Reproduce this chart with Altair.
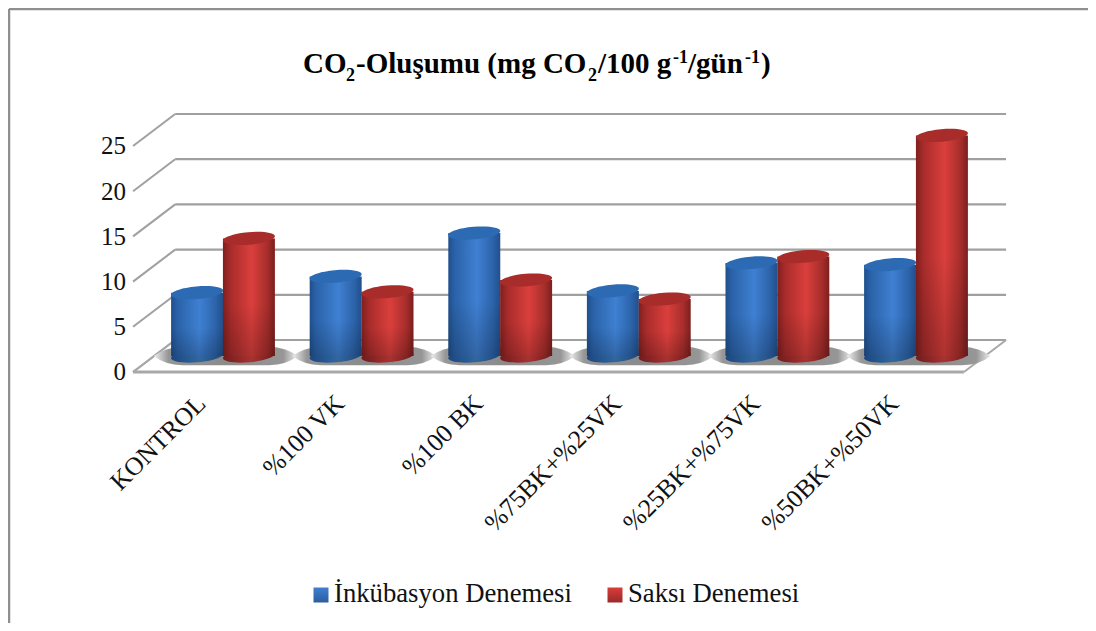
import altair as alt
import pandas as pd

categories = ["KONTROL", "%100 VK", "%100 BK", "%75BK+%25VK", "%25BK+%75VK", "%50BK+%50VK"]
incubation = [7.0, 8.8, 13.6, 7.2, 10.3, 10.1]
pot = [13.0, 7.1, 8.4, 6.3, 11.0, 24.4]
ticks = [0, 5, 10, 15, 20, 25]
series_names = ["İnkübasyon Denemesi", "Saksı Denemesi"]

W, H = 1080, 615
PX_X, PX_Y = 138.6, 9.04
X0, Y0 = 215.0, 348.0

XS = alt.Scale(domain=[-X0 / PX_X, (W - X0) / PX_X], nice=False, zero=False)
YS = alt.Scale(domain=[(Y0 - H) / PX_Y, Y0 / PX_Y], nice=False, zero=False)

DX = 0.152   # half depth of the floor in category units
DY = 1.77    # half depth of the floor in value units
LEFT, RIGHT = -0.497, 5.498
OFF = 0.187
BW = 0.375


def lin(stops, x2=1, y2=0):
    return alt.LinearGradient(
        gradient="linear", x1=0, y1=0, x2=x2, y2=y2,
        stops=[alt.GradientStop(offset=o, color=c) for o, c in stops],
    )


blue_body = lin([(0, "#1f4f8c"), (0.12, "#2a62a8"), (0.55, "#3f80d2"), (0.85, "#2d64ab"), (1, "#214f8b")])
red_body = lin([(0, "#7f1f1f"), (0.15, "#a82c2b"), (0.55, "#da3f3c"), (0.85, "#a82e2c"), (1, "#7c1f1e")])
blue_base = lin([(0, "#1c4780"), (0.55, "#31679f"), (1, "#1d477e")])
red_base = lin([(0, "#711c1c"), (0.55, "#a93230"), (1, "#6f1c1b")])
shade = lin([(0, "rgba(0,0,0,0)"), (0.55, "rgba(0,0,0,0)"), (1, "rgba(0,0,0,0.2)")], x2=0, y2=1)
blue_key = lin([(0, "#3f7fd0"), (1, "#2a5d9e")], x2=0, y2=1)
red_key = lin([(0, "#d83d3a"), (1, "#9a2a28")], x2=0, y2=1)
shadow_fill = alt.RadialGradient(
    gradient="radial", x1=0.5, y1=0.5, r1=0, x2=0.5, y2=0.5, r2=0.5,
    stops=[alt.GradientStop(offset=0, color="#8a8a8a"),
           alt.GradientStop(offset=0.8, color="#969696"),
           alt.GradientStop(offset=1, color="#f0f0f0")],
)

ELLIPSE = "M-1,0.09 A1,0.24 -5 1 1 1,-0.09 A1,0.24 -5 1 1 -1,0.09 Z"
SHADOW = "M-1,0 Q-0.85,-0.12 -0.6,-0.13 L0.6,-0.13 Q0.85,-0.12 1,0 Q0.85,0.12 0.6,0.13 L-0.6,0.13 Q-0.85,0.12 -1,0 Z"
bar_size = (BW * PX_X) ** 2

rows = []
for i, c in enumerate(categories):
    rows.append(dict(cat=c, i=i, s=0, v=incubation[i], x=i - OFF))
    rows.append(dict(cat=c, i=i, s=1, v=pot[i], x=i + OFF))
df = pd.DataFrame(rows)
df["xa"] = df.x - BW / 2
df["xb"] = df.x + BW / 2
df["zero"] = 0.0
xq = lambda f: alt.X(f, type="quantitative", scale=XS, axis=None)
yq = lambda f: alt.Y(f, type="quantitative", scale=YS, axis=None)

GRID = "#a0a0a0"
wall = pd.DataFrame({"v": ticks})
wall["yb"] = wall.v + DY
wall["yf"] = wall.v - DY
wall["lb"] = LEFT + DX
wall["lf"] = LEFT - DX
wall["rb"] = RIGHT + DX

grid_back = alt.Chart(wall).mark_rule(color=GRID, strokeWidth=2.2).encode(
    x=xq("lb"), x2="rb", y=yq("yb"))
grid_side = alt.Chart(wall).mark_rule(color=GRID, strokeWidth=2).encode(
    x=xq("lf"), x2="lb", y=yq("yf"), y2="yb")

floor = pd.DataFrame({
    "xa": [LEFT - DX, RIGHT - DX],
    "xb": [LEFT + DX, RIGHT + DX],
    "ya": [-DY, -DY],
    "yb": [DY, DY],
})
floor_side = alt.Chart(floor).mark_rule(color="#a8a8a8", strokeWidth=2).encode(
    x=xq("xa"), x2="xb", y=yq("ya"), y2="yb")
front = pd.DataFrame({"xa": [LEFT - DX], "xb": [RIGHT - DX], "y": [-DY]})
floor_front = alt.Chart(front).mark_rule(color="#a8a8a8", strokeWidth=3).encode(
    x=xq("xa"), x2="xb", y=yq("y"))

shadows = alt.Chart(pd.DataFrame({"x": [i + 0.02 for i in range(6)], "zero": [0.0] * 6})).mark_point(
    shape=SHADOW, filled=True, fill=shadow_fill, opacity=1, size=144 ** 2, strokeWidth=0
).encode(x=xq("x"), y=yq("zero"))


def cylinder(sub, body, base_fill, top):
    d = df[df.s == sub]
    base = alt.Chart(d).mark_point(
        shape=ELLIPSE, filled=True, fill=base_fill, opacity=1, size=bar_size, strokeWidth=0
    ).encode(x=xq("x"), y=yq("zero"))
    bar = alt.Chart(d).mark_bar(fill=body, strokeWidth=0).encode(
        x=xq("xa"), x2="xb", y=yq("zero"), y2="v")
    over = alt.Chart(d).mark_bar(fill=shade, strokeWidth=0).encode(
        x=xq("xa"), x2="xb", y=yq("zero"), y2="v")
    cap = alt.Chart(d).mark_point(
        shape=ELLIPSE, filled=True, fill=top, opacity=1, size=bar_size, strokeWidth=0
    ).encode(x=xq("x"), y=yq("v"))
    return [base, bar, over, cap]


SERIF = "Liberation Serif"
tick_lab = pd.DataFrame({"t": [str(t) for t in ticks], "y": [t - DY - 0.05 for t in ticks], "x": [LEFT - DX - 0.05] * 6})
tick_text = alt.Chart(tick_lab).mark_text(font=SERIF, fontSize=25, align="right", baseline="middle", color="#111111").encode(
    x=xq("x"), y=yq("y"), text="t:N")

cat_lab = pd.DataFrame({"t": categories, "x": [i - 0.155 for i in range(6)], "y": [-4.8] * 6})
cat_text = alt.Chart(cat_lab).mark_text(font=SERIF, fontSize=25.7, align="right", baseline="middle", angle=315, color="#111111").encode(
    x=xq("x"), y=yq("y"), text="t:N")

# title pieces: text, page x, baseline y, size
title_bits = pd.DataFrame([
    ("CO", 303, 73, 29), ("2", 346, 81, 18), ("-Oluşumu (mg CO", 356, 73, 29),
    ("2", 588, 81, 18), ("/100 g", 598, 73, 29), ("-1", 673, 63, 18),
    ("/gün", 688, 73, 29), ("-1", 745, 63, 18), (")", 761, 73, 29),
], columns=["t", "px", "py", "fs"])
title_layers = [
    alt.Chart(title_bits[title_bits.fs == fs]).mark_text(
        font=SERIF, fontWeight="bold", fontSize=fs, align="left", baseline="alphabetic", color="#000000"
    ).encode(
        x=alt.X("vx:Q", scale=None), y=alt.Y("vy:Q", scale=None), text="t:N"
    ).transform_calculate(vx="datum.px - 8", vy="datum.py - 8")
    for fs in (29, 18)
]

legend_text = alt.Chart(pd.DataFrame({"t": series_names, "px": [334, 628], "py": [602, 602]})).mark_text(
    font=SERIF, fontSize=26.7, align="left", baseline="alphabetic", color="#111111"
).encode(x=alt.X("vx:Q", scale=None), y=alt.Y("vy:Q", scale=None), text="t:N").transform_calculate(
    vx="datum.px - 8", vy="datum.py - 8")


def key(px, fill):
    return alt.Chart(pd.DataFrame({"px": [px], "py": [595]})).mark_point(
        shape="square", filled=True, fill=fill, opacity=1, size=15 ** 2, strokeWidth=0
    ).encode(x=alt.X("vx:Q", scale=None), y=alt.Y("vy:Q", scale=None)).transform_calculate(
        vx="datum.px - 8", vy="datum.py - 8")


border = pd.DataFrame({"a": [1.0], "b": [float(W)], "c": [1.0], "d": [float(H)]})
frame_top = alt.Chart(border).mark_rule(color="#8f8f8f", strokeWidth=2.5).encode(
    x=alt.X("a:Q", scale=None), x2="b:Q", y=alt.Y("c:Q", scale=None))
frame_left = alt.Chart(border).mark_rule(color="#8f8f8f", strokeWidth=2.5).encode(
    x=alt.X("a:Q", scale=None), y=alt.Y("c:Q", scale=None), y2="d:Q")

layers = [frame_top, frame_left, grid_back, grid_side, floor_side, floor_front, shadows]
for sub, body, bf, top in [(0, blue_body, blue_base, "#2c6bb4"), (1, red_body, red_base, "#a82c2a")]:
    layers += cylinder(sub, body, bf, top)
layers += [tick_text, cat_text] + title_layers + [legend_text, key(321, blue_key), key(615, red_key)]

chart = alt.layer(*layers).resolve_scale(x="shared", y="shared").properties(
    width=W, height=H, padding=0, background="white",
    autosize=alt.AutoSizeParams(type="none"),
).configure_view(stroke=None)

chart.save("out.html", embed_options={"renderer": "svg", "actions": False})
